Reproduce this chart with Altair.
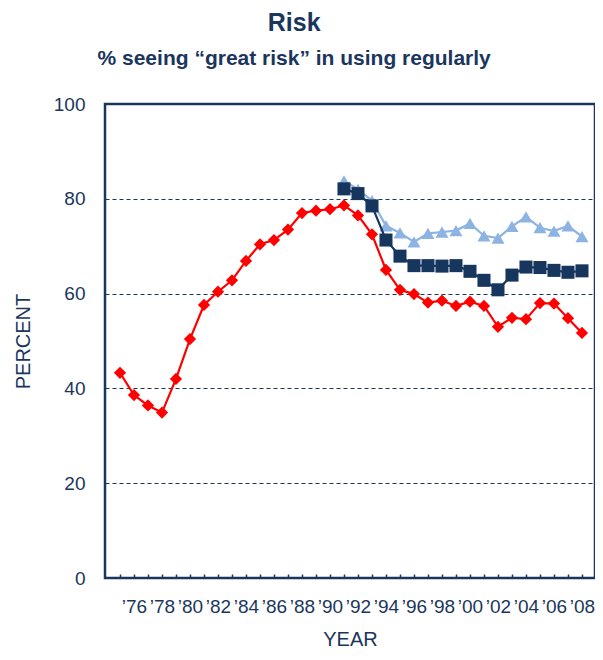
import altair as alt
import pandas as pd

years_12 = list(range(1975, 2009))
grade12 = [43.3, 38.6, 36.4, 34.9, 42.0, 50.4, 57.6, 60.4, 62.8, 66.9, 70.4, 71.3,
           73.5, 77.0, 77.5, 77.8, 78.6, 76.5, 72.5, 65.0, 60.8, 59.9, 58.1, 58.5,
           57.4, 58.3, 57.4, 53.0, 54.9, 54.6, 58.0, 57.9, 54.8, 51.7]
years_8_10 = list(range(1991, 2009))
grade10 = [82.1, 81.1, 78.5, 71.3, 67.9, 65.9, 65.9, 65.8, 65.9, 64.7, 62.8, 60.8,
           63.9, 65.6, 65.5, 64.9, 64.5, 64.8]
grade8 = [83.8, 82.0, 79.6, 74.3, 72.8, 70.9, 72.7, 73.0, 73.3, 74.8, 72.2, 71.7,
          74.2, 76.2, 73.9, 73.2, 74.3, 72.0]
tick_years = list(range(1975, 2009))

series_names = ["8th Grade", "10th Grade", "12th Grade"]
series_colors = ["#8DB3E2", "#17365D", "#FF0000"]
series_shapes = ["triangle-up", "square", "diamond"]
series_sizes = [170, 170, 150]

rows = []
for y, v in zip(years_8_10, grade8):
    rows.append({"series": "8th Grade", "year": y, "value": v})
for y, v in zip(years_8_10, grade10):
    rows.append({"series": "10th Grade", "year": y, "value": v})
for y, v in zip(years_12, grade12):
    rows.append({"series": "12th Grade", "year": y, "value": v})
df = pd.DataFrame(rows)

NAVY = "#1B365D"
FONT = "Liberation Sans"

x = alt.X("year:Q",
          scale=alt.Scale(domain=[1973.93, 2008.93], nice=False, zero=False),
          axis=alt.Axis(values=tick_years, title="YEAR", grid=False, domain=False,
                        offset=-4, tickSize=4, tickColor=NAVY, tickWidth=1.5,
                        labelExpr="datum.value % 2 == 0 ? '\u2019' + substring(toString(datum.value), 2, 4) : ''",
                        labelOverlap=False, labelPadding=19, labelFontSize=19,
                        labelColor=NAVY, labelFont=FONT, titleFont=FONT,
                        titleFontSize=20, titleFontWeight="normal", titleColor=NAVY,
                        titlePadding=13))
y = alt.Y("value:Q",
          scale=alt.Scale(domain=[0, 100], nice=False),
          axis=alt.Axis(values=[0, 20, 40, 60, 80, 100], title="PERCENT", grid=True,
                        gridColor=NAVY, gridDash=[4, 3], gridWidth=1, domain=False,
                        ticks=False, labelPadding=20, labelFontSize=19, labelColor=NAVY,
                        labelFont=FONT, titleFont=FONT, titleFontSize=20,
                        titleFontWeight="normal", titleColor=NAVY, titlePadding=20))
color = alt.Color("series:N", scale=alt.Scale(domain=series_names, range=series_colors), legend=None)
shape = alt.Shape("series:N", scale=alt.Scale(domain=series_names, range=series_shapes), legend=None)

layers = []
for name, sz in zip(series_names, series_sizes):
    sub = alt.Chart(df[df.series == name])
    layers.append(sub.mark_line(strokeWidth=2.2).encode(x=x, y=y, color=color))
    layers.append(sub.mark_point(filled=True, size=sz, opacity=1).encode(x=x, y=y, color=color, shape=shape))

chart = alt.layer(*layers).properties(
    width=490, height=474,
    padding={"left": 5, "right": 0, "top": 3, "bottom": 0},
    title=alt.TitleParams(text="Risk", subtitle="% seeing \u201cgreat risk\u201d in using regularly",
                          font=FONT, fontSize=25, fontWeight="bold", color=NAVY,
                          subtitleFont=FONT, subtitleFontSize=21, subtitleFontWeight="bold",
                          subtitleColor=NAVY, subtitlePadding=12, offset=26,
                          anchor="middle", frame="bounds", dx=-10),
).configure_view(stroke=NAVY, strokeWidth=2.5)

chart.save("out.html", embed_options={"renderer": "svg", "actions": False})
